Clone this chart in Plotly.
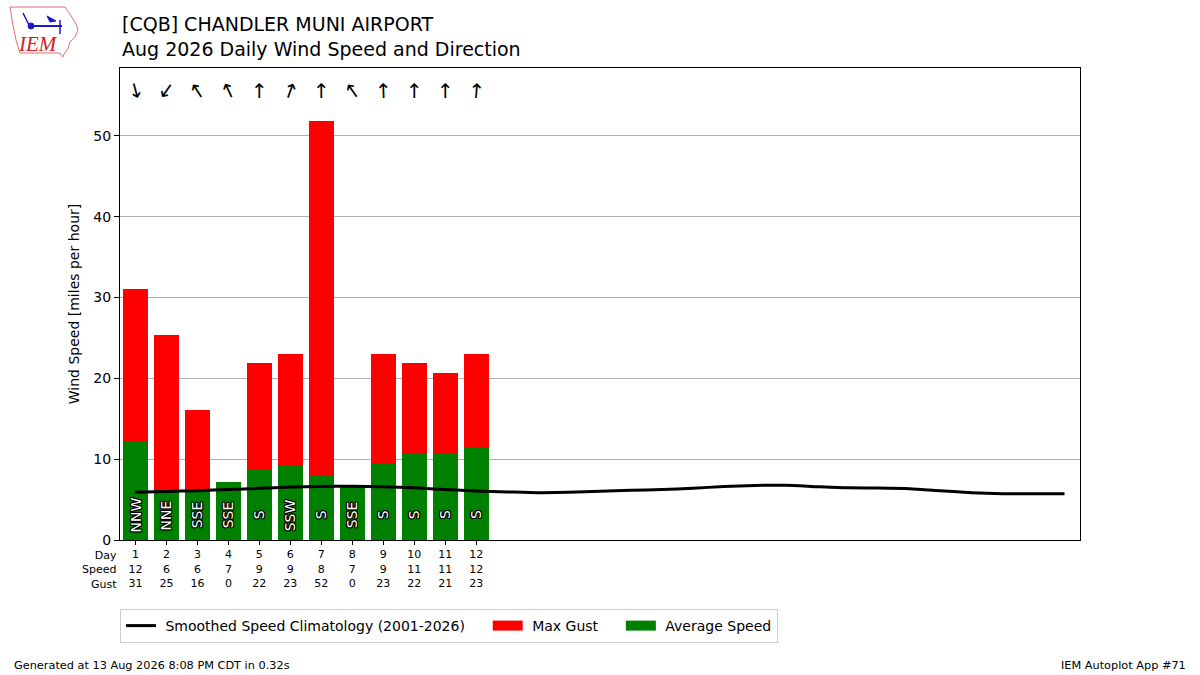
import plotly.graph_objects as go

days = list(range(1, 13))
avg_speed = [12.2, 6.3, 6.3, 7.2, 8.6, 9.3, 7.9, 6.8, 9.4, 10.6, 10.6, 11.5]
max_gust = [31.1, 25.4, 16.1, 0, 21.9, 23.0, 51.9, 0, 23.0, 21.9, 20.7, 23.0]
dir_text = ["NNW", "NNE", "SSE", "SSE", "S", "SSW", "S", "SSE", "S", "S", "S", "S"]
dir_deg = [345, 35, 147, 155, 180, 200, 180, 145, 178, 180, 180, 185]

clim_days = list(range(1, 32))
clim_speed = [5.9, 6.0, 6.1, 6.25, 6.4, 6.55, 6.62, 6.65, 6.6, 6.45, 6.25, 6.05,
              5.95, 5.86, 5.9, 6.03, 6.15, 6.25, 6.4, 6.62, 6.75, 6.77, 6.6,
              6.45, 6.43, 6.35, 6.1, 5.85, 5.73, 5.72, 5.73]

FONT = "DejaVu Sans"
NB = "\u00a0"  # spacing tweaks for legend entries

# plot area in pixels: x 120..1080, y 68..540
def px(x):
    return (x - 120) / 960.0

def py(y):
    return (540 - y) / 472.0

fig = go.Figure()

fig.add_trace(go.Bar(
    x=days, y=max_gust, width=0.8, marker_color="#ff0000",
    marker_line_width=0, name="Max Gust", showlegend=False,
))
fig.add_trace(go.Bar(
    x=days, y=avg_speed, width=0.8, marker_color="#008000",
    marker_line_width=0, name="Average Speed", showlegend=False,
))
fig.add_trace(go.Scatter(
    x=clim_days, y=clim_speed, mode="lines",
    line=dict(color="black", width=3, shape="spline", smoothing=0.6),
    name=NB + "Smoothed Speed Climatology (2001-2026)" + NB * 4,
))
# legend entries drawn as wide rectangles like the original
for nm, col in [(NB + "Max Gust" + NB * 4, "#ff0000"), (NB + "Average Speed", "#008000")]:
    fig.add_trace(go.Scatter(
        x=[None], y=[None], mode="lines", line=dict(color=col, width=10), name=nm,
    ))

annotations = []

# direction labels inside bars
for d, t in zip(days, dir_text):
    annotations.append(dict(
        x=d, y=3.1, xref="x", yref="y", text=t, showarrow=False,
        textangle=-90,
        font=dict(family=FONT, size=14, color="white",
                  shadow="1px 1px 0 #000, -1px -1px 0 #000, 1px -1px 0 #000, -1px 1px 0 #000, 0 1px 0 #000, 0 -1px 0 #000, 1px 0 0 #000, -1px 0 0 #000"),
    ))

# wind arrows along the top
for d, deg in zip(days, dir_deg):
    annotations.append(dict(
        x=d, y=55.6, xref="x", yref="y", text="↑", showarrow=False,
        textangle=(deg + 180) % 360,
        font=dict(family=FONT, size=20, color="black"),
    ))

# row labels for the table under the axis
annotations.append(dict(
    x=0, y=0, xref="paper", yref="paper", xanchor="right", yanchor="top",
    xshift=-1, yshift=-7, align="right", showarrow=False,
    text="Day<br>Speed<br>Gust", font=dict(family=FONT, size=11, color="black"),
))

# title
annotations.append(dict(
    x=0, y=py(11), xref="paper", yref="paper", xanchor="left", yanchor="top",
    align="left", showarrow=False,
    text="[CQB] CHANDLER MUNI AIRPORT<br>Aug 2026 Daily Wind Speed and Direction",
    font=dict(family=FONT, size=19, color="black"),
))

# footer
annotations.append(dict(
    x=px(12), y=py(665), xref="paper", yref="paper", xanchor="left", yanchor="middle",
    showarrow=False, text="Generated at 13 Aug 2026 8:08 PM CDT in 0.32s",
    font=dict(family=FONT, size=11.3, color="black"),
))
annotations.append(dict(
    x=px(1188), y=py(665), xref="paper", yref="paper", xanchor="right", yanchor="middle",
    showarrow=False, text="IEM Autoplot App #71",
    font=dict(family=FONT, size=11.3, color="black"),
))

# logo text
annotations.append(dict(
    x=px(38), y=py(44), xref="paper", yref="paper", xanchor="center", yanchor="middle",
    showarrow=False, text="<i>IEM</i>",
    font=dict(family="Liberation Serif", size=21, color="#d42020"),
))

# logo outline (rough Iowa shape) and weather vane
iowa = [(10, 7), (65, 7), (70, 14), (76, 24), (78, 30), (75, 37), (70, 42),
        (68, 49), (64, 54), (63, 57), (60, 53), (20, 53), (16, 40), (13, 25), (10, 7)]
path = "M " + " L ".join(f"{px(a):.4f},{py(b):.4f}" for a, b in iowa) + " Z"
shapes = [
    dict(type="path", path=path, xref="paper", yref="paper",
         line=dict(color="#e07070", width=1), fillcolor="rgba(0,0,0,0)"),
    dict(type="line", xref="paper", yref="paper", x0=px(31), y0=py(26), x1=px(62), y1=py(26),
         line=dict(color="#1a1acc", width=2)),
    dict(type="line", xref="paper", yref="paper", x0=px(23), y0=py(13), x1=px(29), y1=py(25),
         line=dict(color="#1a1acc", width=1.5)),
    dict(type="line", xref="paper", yref="paper", x0=px(60), y0=py(20), x1=px(60), y1=py(34),
         line=dict(color="#1a1acc", width=1.5)),
    dict(type="circle", xref="paper", yref="paper", x0=px(28), y0=py(23), x1=px(34), y1=py(29),
         line=dict(color="#1a1acc", width=1), fillcolor="#1a1acc"),
    dict(type="path", xref="paper", yref="paper",
         path=f"M {px(47):.4f},{py(16):.4f} L {px(56):.4f},{py(21):.4f} L {px(50):.4f},{py(22):.4f} Z",
         line=dict(color="#1a1acc", width=1), fillcolor="#1a1acc"),
]

fig.update_layout(
    width=1200, height=675,
    margin=dict(l=120, r=120, t=68, b=135),
    paper_bgcolor="white", plot_bgcolor="white",
    barmode="overlay", bargap=0,
    font=dict(family=FONT, size=14, color="black"),
    showlegend=True,
    legend=dict(
        orientation="h", x=0, y=py(609), xanchor="left", yanchor="top",
        bordercolor="#cccccc", borderwidth=1, font=dict(size=14),
        itemwidth=30, traceorder="normal",
    ),
    annotations=annotations,
    shapes=shapes,
    xaxis=dict(
        range=[0.5, 31.5], tickmode="array", tickvals=days,
        ticktext=[f"{d}<br>{s:.0f}<br>{g:.0f}" for d, s, g in zip(days, avg_speed, max_gust)],
        tickfont=dict(size=11), ticks="outside", ticklen=4, tickcolor="black",
        showgrid=False, zeroline=False,
        showline=True, mirror=True, linecolor="black", linewidth=1,
    ),
    yaxis=dict(
        range=[0, 58.4], tickvals=[0, 10, 20, 30, 40, 50],
        ticks="outside", ticklen=5, tickcolor="black",
        showgrid=True, gridcolor="#b0b0b0", gridwidth=1, zeroline=False,
        showline=True, mirror=True, linecolor="black", linewidth=1,
        title=dict(text="Wind Speed [miles per hour]", font=dict(size=14), standoff=10),
    ),
)

fig.write_html(
    "out.html",
    config={"displayModeBar": False},
    post_script="document.body.style.margin='0';document.body.style.overflow='hidden';",
)
